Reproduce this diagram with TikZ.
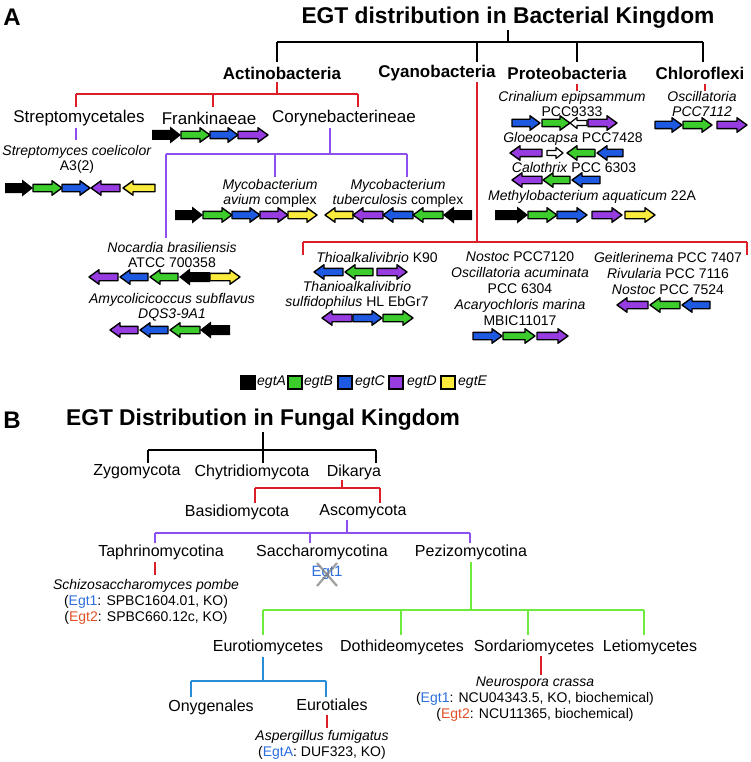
\documentclass[tikz,border=0pt]{standalone}
\usepackage{fontspec}
\setmainfont{Liberation Sans}

\definecolor{trred}{RGB}{220,30,40}
\definecolor{trpurple}{RGB}{140,80,240}
\definecolor{trgreen}{RGB}{110,235,60}
\definecolor{trblue}{RGB}{40,140,215}
\definecolor{ggreen}{RGB}{60,205,45}
\definecolor{gblue}{RGB}{30,90,225}
\definecolor{gpurple}{RGB}{150,60,225}
\definecolor{gyellow}{RGB}{250,235,60}
\definecolor{egtblue}{RGB}{45,110,220}
\definecolor{egtred}{RGB}{225,80,40}

% gene arrow: tail x, tip x, y, fill
\newcommand{\gene}[4]{%
  \pgfmathsetmacro{\bx}{#2+((#2>#1)?-10:10)}
  \filldraw[fill=#4,draw=black,line width=1.4pt,line join=round]
    (#1,#3-3.7) -- (\bx,#3-3.7) -- (\bx,#3-7.2) -- (#2,#3)
    -- (\bx,#3+7.2) -- (\bx,#3+3.7) -- (#1,#3+3.7) -- cycle;}
% egtA arrow, thicker body
\newcommand{\agene}[3]{%
  \pgfmathsetmacro{\bx}{#2+((#2>#1)?-11:11)}
  \fill[black]
    (#1,#3-5) -- (\bx,#3-5) -- (\bx,#3-8.5) -- (#2,#3)
    -- (\bx,#3+8.5) -- (\bx,#3+5) -- (#1,#3+5) -- cycle;}
% small gene arrow
\newcommand{\sgene}[4]{%
  \pgfmathsetmacro{\bx}{#2+((#2>#1)?-7:7)}
  \filldraw[fill=#4,draw=black,line width=1.2pt,line join=round]
    (#1,#3-2.5) -- (\bx,#3-2.5) -- (\bx,#3-5.5) -- (#2,#3)
    -- (\bx,#3+5.5) -- (\bx,#3+2.5) -- (#1,#3+2.5) -- cycle;}

\tikzset{
  lab/.style={font=\bfseries\fontsize{24}{26}\selectfont},
  ttl/.style={font=\bfseries\fontsize{22.8}{25}\selectfont},
  phy/.style={font=\bfseries\fontsize{17}{19}\selectfont},
  tax/.style={font=\fontsize{17}{19}\selectfont},
  fun/.style={font=\fontsize{16}{18}\selectfont},
  sp/.style={font=\fontsize{14}{15}\selectfont, align=center},
  sp2/.style={font=\fontsize{14}{16}\selectfont, align=center},
  blk/.style={line width=2.8pt, black},
  redl/.style={line width=2.5pt, trred},
  purl/.style={line width=2.5pt, trpurple},
  grnl/.style={line width=2.5pt, trgreen},
  blul/.style={line width=2.5pt, trblue},
  key/.style={draw=black, line width=1.2pt}
}

\begin{document}
\begin{tikzpicture}[x=1pt,y=-1pt]
\tikzstyle{every node}+=[inner sep=0pt]
\useasboundingbox (0,0) rectangle (750,762);

% ---- A: bacteria
\node[lab] (labA) at (12,17) {A};
\node[ttl] (ttlA) at (508,18) {EGT distribution in Bacterial Kingdom};
\node[phy] (actino) at (282,73) {Actinobacteria};
\node[phy] (cyano) at (437,73) {Cyanobacteria};
\node[phy] (proteo) at (567,73) {Proteobacteria};
\node[phy] (chloro) at (700,73) {Chloroflexi};
\node[tax] (strepto) at (79,118) {Streptomycetales};
\node[tax] (franki) at (209,118) {Frankinaeae};
\node[tax] (coryne) at (344,118) {Corynebacterineae};

\coordinate (a0) at (508,30);
\coordinate (a1) at (277,42); \coordinate (a2) at (477,42);
\coordinate (a3) at (577,42); \coordinate (a4) at (703,42);
\draw[blk] (a0) -- (a0 |- a1);
\draw[blk] (a1) -- (a4);
\draw[blk] (a1) -- ++(0,20);
\draw[blk] (a2) -- ++(0,20);
\draw[blk] (a3) -- ++(0,20);
\draw[blk] (a4) -- ++(0,20);

\coordinate (ac0) at (277,82);
\coordinate (ac1) at (76,94); \coordinate (ac2) at (213,94); \coordinate (ac3) at (358,94);
\draw[redl] (ac0) -- (ac0 |- ac1);
\draw[redl] (ac1) -- (ac3);
\draw[redl] (ac1) -- ++(0,13);
\draw[redl] (ac2) -- ++(0,13);
\draw[redl] (ac3) -- ++(0,13);

\coordinate (st0) at (76,128);
\draw[purl] (st0) -- ++(0,12);

\coordinate (co0) at (330,128);
\coordinate (co1) at (166,154); \coordinate (co2) at (275,154); \coordinate (co3) at (407,154);
\draw[purl] (co0) -- (co0 |- co1);
\draw[purl] (co1) -- (co3);
\draw[purl] (co1) -- ++(0,84);
\draw[purl] (co2) -- ++(0,23);
\draw[purl] (co3) -- ++(0,23);

\coordinate (cy0) at (477,82);
\coordinate (cy1) at (303,242); \coordinate (cy2) at (747,242);
\draw[redl] (cy0) -- (cy0 |- cy1);
\draw[redl] (cy1) -- (cy2);
\draw[redl] (cy1) -- ++(0,13);
\draw[redl] (cy2) -- ++(0,13);

\coordinate (pr0) at (577,84);
\draw[redl] (pr0) -- ++(0,7);
\coordinate (ch0) at (705,84);
\draw[redl] (ch0) -- ++(0,7);

% species
\node[sp] (scoel) at (77,159) {\textit{Streptomyces coelicolor}\\A3(2)};
\node[sp] (mavium) at (270,193.5) {\textit{Mycobacterium}\\\textit{avium} complex};
\node[sp] (mtuber) at (398,193.5) {\textit{Mycobacterium}\\\textit{tuberculosis} complex};
\node[sp] (nocard) at (172,254.5) {\textit{Nocardia brasiliensis}\\ATCC 700358};
\node[sp] (amycol) at (172,307) {\textit{Amycolicicoccus subflavus}\\\textit{DQS3-9A1}};
\node[sp] (thio) at (377,257) {\textit{Thioalkalivibrio} K90};
\node[sp] (thanio) at (357,295.5) {\textit{Thanioalkalivibrio}\\\textit{sulfidophilus} HL EbGr7};
\node[sp2] (nostoc) at (520,289) {\textit{Nostoc} PCC7120\\\textit{Oscillatoria acuminata}\\PCC 6304\\\textit{Acaryochloris marina}\\MBIC11017};
\node[sp2] (geitl) at (668,273) {\textit{Geitlerinema} PCC 7407\\\textit{Rivularia} PCC 7116\\\textit{Nostoc} PCC 7524};
\node[sp] (crinal) at (572,104) {\textit{Crinalium epipsammum}\\PCC9333};
\node[sp] (oscill) at (702,104) {\textit{Oscillatoria}\\\textit{PCC7112}};
\node[sp] (gloeo) at (573,139) {\textit{Gloeocapsa} PCC7428};
\node[sp] (caloth) at (574,167) {\textit{Calothrix} PCC 6303};
\node[sp] (methyl) at (592,197) {\textit{Methylobacterium aquaticum} 22A};

% gene clusters
\agene{152}{181}{135} \gene{181}{210}{135}{ggreen}
\gene{210}{238}{135}{gblue} \gene{238}{268}{135}{gpurple}

\agene{5}{33}{188} \gene{33}{62}{188}{ggreen} \gene{62}{90}{188}{gblue}
\gene{120}{91}{188}{gpurple} \gene{155}{123}{188}{gyellow}

\agene{175}{203}{215} \gene{203}{232}{215}{ggreen} \gene{232}{260}{215}{gblue}
\gene{260}{288}{215}{gpurple} \gene{288}{317}{215}{gyellow}
\gene{353}{325}{215}{gyellow} \gene{383}{353}{215}{gpurple} \gene{413}{383}{215}{gblue}
\gene{443}{413}{215}{ggreen} \agene{472}{443}{215}

\gene{118}{89}{277}{gpurple} \gene{148}{120}{277}{gblue} \gene{178}{150}{277}{ggreen}
\agene{210}{179}{277} \gene{210}{240}{277}{gyellow}

\gene{138}{110}{330}{gpurple} \gene{168}{140}{330}{gblue} \gene{200}{170}{330}{ggreen}
\agene{230}{200}{330}

\gene{343}{314}{272}{gblue} \gene{373}{345}{272}{ggreen} \gene{377}{407}{272}{gpurple}

\gene{352}{322}{318}{gpurple} \gene{353}{382}{318}{gblue} \gene{383}{413}{318}{ggreen}

\gene{473}{502}{336}{gblue} \gene{503}{535}{336}{ggreen} \gene{537}{568}{336}{gpurple}

\gene{648}{617}{305}{gpurple} \gene{680}{650}{305}{ggreen} \gene{710}{682}{305}{gblue}

\gene{512}{540}{123}{gblue} \gene{542}{570}{123}{ggreen} \sgene{587}{570}{123}{white}
\gene{588}{617}{123}{gpurple}

\gene{542}{510}{153}{gpurple} \sgene{547}{563}{153}{white} \gene{595}{567}{153}{ggreen}
\gene{623}{597}{153}{gblue}

\gene{542}{512}{180}{gpurple} \gene{570}{543}{180}{ggreen} \gene{600}{572}{180}{gblue}

\agene{495}{528}{215} \gene{528}{557}{215}{ggreen} \gene{557}{587}{215}{gblue}
\gene{592}{622}{215}{gpurple} \gene{625}{655}{215}{gyellow}

\gene{655}{682}{125}{gblue} \gene{683}{712}{125}{ggreen} \gene{717}{747}{125}{gpurple}

% legend
\filldraw[key, fill=black] (241,376) rectangle (255,389);
\node[sp, anchor=west] (kA) at (257,382) {\textit{egtA}};
\filldraw[key, fill=ggreen] (288,376) rectangle (302,389);
\node[sp, anchor=west] (kB) at (304,382) {\textit{egtB}};
\filldraw[key, fill=gblue] (338,376) rectangle (352,389);
\node[sp, anchor=west] (kC) at (355,382) {\textit{egtC}};
\filldraw[key, fill=gpurple] (389,376) rectangle (403,389);
\node[sp, anchor=west] (kD) at (407,382) {\textit{egtD}};
\filldraw[key, fill=gyellow] (441,376) rectangle (455,389);
\node[sp, anchor=west] (kE) at (458,382) {\textit{egtE}};

% ---- B: fungi
\node[lab] (labB) at (12,420) {B};
\node[ttl] (ttlB) at (263,420) {EGT Distribution in Fungal Kingdom};
\node[fun] (zygo) at (137,472) {Zygomycota};
\node[fun] (chytri) at (252,472) {Chytridiomycota};
\node[fun] (dikarya) at (354,472) {Dikarya};
\node[fun] (basidio) at (237,512) {Basidiomycota};
\node[fun] (asco) at (363,512) {Ascomycota};
\node[fun] (taphrin) at (161,552) {Taphrinomycotina};
\node[fun] (saccharo) at (322,552) {Saccharomycotina};
\node[fun] (pezizo) at (471,552) {Pezizomycotina};
\node[fun] (euro) at (268,647) {Eurotiomycetes};
\node[fun] (dothi) at (402,647) {Dothideomycetes};
\node[fun] (sordar) at (534,647) {Sordariomycetes};
\node[fun] (letio) at (650,647) {Letiomycetes};
\node[fun] (onyg) at (211,707) {Onygenales};
\node[fun] (eurot) at (332,705) {Eurotiales};

\coordinate (b0) at (263,432);
\coordinate (b1) at (148,450); \coordinate (b2) at (263,450); \coordinate (b3) at (376,450);
\draw[blk] (b0) -- (b2);
\draw[blk] (b1) -- (b3);
\draw[blk] (b1) -- ++(0,13);
\draw[blk] (b2) -- ++(0,13);
\draw[blk] (b3) -- ++(0,13);

\coordinate (dk0) at (342,480);
\coordinate (dk1) at (255,488); \coordinate (dk2) at (380,488);
\draw[redl] (dk0) -- (dk0 |- dk1);
\draw[redl] (dk1) -- (dk2);
\draw[redl] (dk1) -- ++(0,15);
\draw[redl] (dk2) -- ++(0,15);

\coordinate (as0) at (347,520);
\coordinate (as1) at (155,533); \coordinate (as2) at (310,533); \coordinate (as3) at (470,533);
\draw[purl] (as0) -- (as0 |- as1);
\draw[purl] (as1) -- (as3);
\draw[purl] (as1) -- ++(0,10);
\draw[purl] (as2) -- ++(0,10);
\draw[purl] (as3) -- ++(0,10);

\coordinate (tp0) at (155,562);
\draw[redl] (tp0) -- ++(0,13);

\node[sp, font=\fontsize{15}{16}\selectfont, text=egtblue] (egtsc) at (327,573) {Egt1};
\draw[line width=2.2pt, gray, opacity=0.75] (317,563) -- (337,586);
\draw[line width=2.2pt, gray, opacity=0.75] (337,563) -- (317,586);

\coordinate (pz0) at (471,562);
\coordinate (pz1) at (263,610); \coordinate (pz2) at (401,610);
\coordinate (pz3) at (528,610); \coordinate (pz4) at (644,610);
\draw[grnl] (pz0) -- (pz0 |- pz1);
\draw[grnl] (pz1) -- (pz4);
\draw[grnl] (pz1) -- ++(0,25);
\draw[grnl] (pz2) -- ++(0,25);
\draw[grnl] (pz3) -- ++(0,25);
\draw[grnl] (pz4) -- ++(0,25);

\coordinate (eu0) at (263,657);
\coordinate (eu1) at (191,681); \coordinate (eu2) at (326,681);
\draw[blul] (eu0) -- (eu0 |- eu1);
\draw[blul] (eu1) -- (eu2);
\draw[blul] (eu1) -- ++(0,16);
\draw[blul] (eu2) -- ++(0,16);

\coordinate (et0) at (327,715);
\draw[redl] (et0) -- ++(0,13);
\coordinate (so0) at (541,656);
\draw[redl] (so0) -- ++(0,19);

\node[sp2] (spombe) at (146,602) {\textit{Schizosaccharomyces pombe}\\(\textcolor{egtblue}{Egt1}: SPBC1604.01, KO)\\(\textcolor{egtred}{Egt2}: SPBC660.12c, KO)};
\node[sp2] (afumi) at (322,745) {\textit{Aspergillus fumigatus}\\(\textcolor{egtblue}{EgtA}: DUF323, KO)};
\node[sp2] (ncrassa) at (535,699) {\textit{Neurospora crassa}\\(\textcolor{egtblue}{Egt1}: NCU04343.5, KO, biochemical)\\(\textcolor{egtred}{Egt2}: NCU11365, biochemical)};
\end{tikzpicture}
\end{document}
